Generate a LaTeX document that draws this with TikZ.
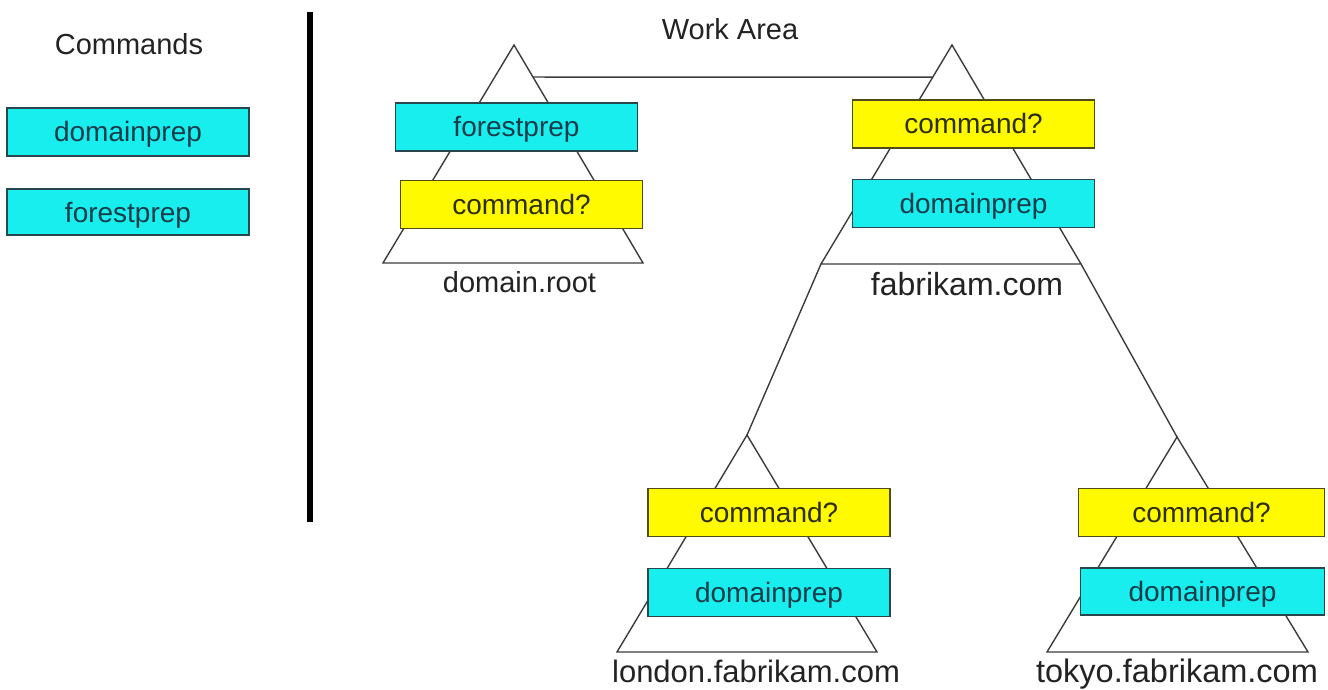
\documentclass[tikz,border=0pt]{standalone}
\usepackage{fontspec}
\setmainfont{Liberation Sans}
\usetikzlibrary{calc}
\begin{document}
\begin{tikzpicture}[x=1pt,y=-1pt,
  cmdbox/.style={draw=boxline,line width=1.4pt,minimum width=242pt,minimum height=48pt,
     inner sep=0pt,text height=20pt,text depth=0pt,font=\fontsize{28}{30}\selectfont},
  cyanbox/.style={cmdbox,fill=boxcyan,text=cyantext},
  yellowbox/.style={cmdbox,fill=boxyellow,text=yellowtext,draw=yellowline},
  tri/.style={draw=triline,line width=1.4pt,line join=miter},
  link/.style={draw=triline,line width=1.4pt},
  lbl/.style={anchor=base,text=lbltext,inner sep=0pt}]
\definecolor{boxcyan}{RGB}{24,238,238}
\definecolor{boxyellow}{RGB}{255,250,0}
\definecolor{boxline}{RGB}{40,70,75}
\definecolor{yellowline}{RGB}{80,75,20}
\definecolor{cyantext}{RGB}{25,60,75}
\definecolor{yellowtext}{RGB}{45,45,15}
\definecolor{triline}{RGB}{60,60,60}
\definecolor{lbltext}{RGB}{35,35,35}
\useasboundingbox[fill=white] (0,0) rectangle (1328,690);

% left panel
\node[lbl,font=\fontsize{29}{31}\selectfont] (cmdtitle) at (129,55) {Commands};
\node[cyanbox] (cdp) at (128,132) {domainprep};
\node[cyanbox,minimum height=46pt] (cfp) at (128,212) {forestprep};
\coordinate (bartop) at (310,12);
\coordinate (barbot) at (310,522);
\draw[line width=5.5pt,black] (bartop) -- (barbot);

\node[lbl,font=\fontsize{29}{31}\selectfont] (work) at (730,40) {Work Area};

% triangle corners
\coordinate (dA) at (514,45);  \coordinate (dL) at (383,263); \coordinate (dR) at (643,263);
\coordinate (fA) at (952,45);  \coordinate (fL) at (821,264); \coordinate (fR) at (1081,264);
\coordinate (lA) at (747,435); \coordinate (lL) at (617,652); \coordinate (lR) at (877,652);
\coordinate (tA) at (1177,437);\coordinate (tL) at (1047,652);\coordinate (tR) at (1308,652);

\draw[tri] (dA) -- (dL) -- (dR) -- cycle;
\draw[tri] (fA) -- (fL) -- (fR) -- cycle;
\draw[tri] (lA) -- (lL) -- (lR) -- cycle;
\draw[tri] (tA) -- (tL) -- (tR) -- cycle;

% connectors
\coordinate (dE) at ($(dA)!0.147!(dR)$);
\coordinate (fE) at ($(fA)!0.147!(fL)$);
\draw[link] (dE) -- (fE);
\draw[link] (fL) -- (lA);
\draw[link] (fR) -- (tA);

% boxes
\node[cyanbox] (dfp) at (516.5,127) {forestprep};
\node[yellowbox] (dcq) at (521.5,204.5) {command?};
\node[yellowbox] (fcq) at (973.5,124) {command?};
\node[cyanbox] (fdp) at (973.5,203.5) {domainprep};
\node[yellowbox] (lcq) at (769,512.5) {command?};
\node[cyanbox] (ldp) at (769,592.5) {domainprep};
\node[yellowbox,minimum width=246pt] (tcq) at (1201.5,512.5) {command?};
\node[cyanbox,minimum width=244pt,minimum height=47pt] (tdp) at (1202.5,591.5) {domainprep};

% labels
\node[lbl,font=\fontsize{29}{31}\selectfont] (dlab) at (519.5,292) {domain.root};
\node[lbl,font=\fontsize{32}{34}\selectfont] (flab) at (967,295) {fabrikam.com};
\node[lbl,font=\fontsize{31}{33}\selectfont] (llab) at (756,682) {london.fabrikam.com};
\node[lbl,font=\fontsize{32.5}{34}\selectfont] (tlab) at (1177,682) {tokyo.fabrikam.com};
\end{tikzpicture}
\end{document}
